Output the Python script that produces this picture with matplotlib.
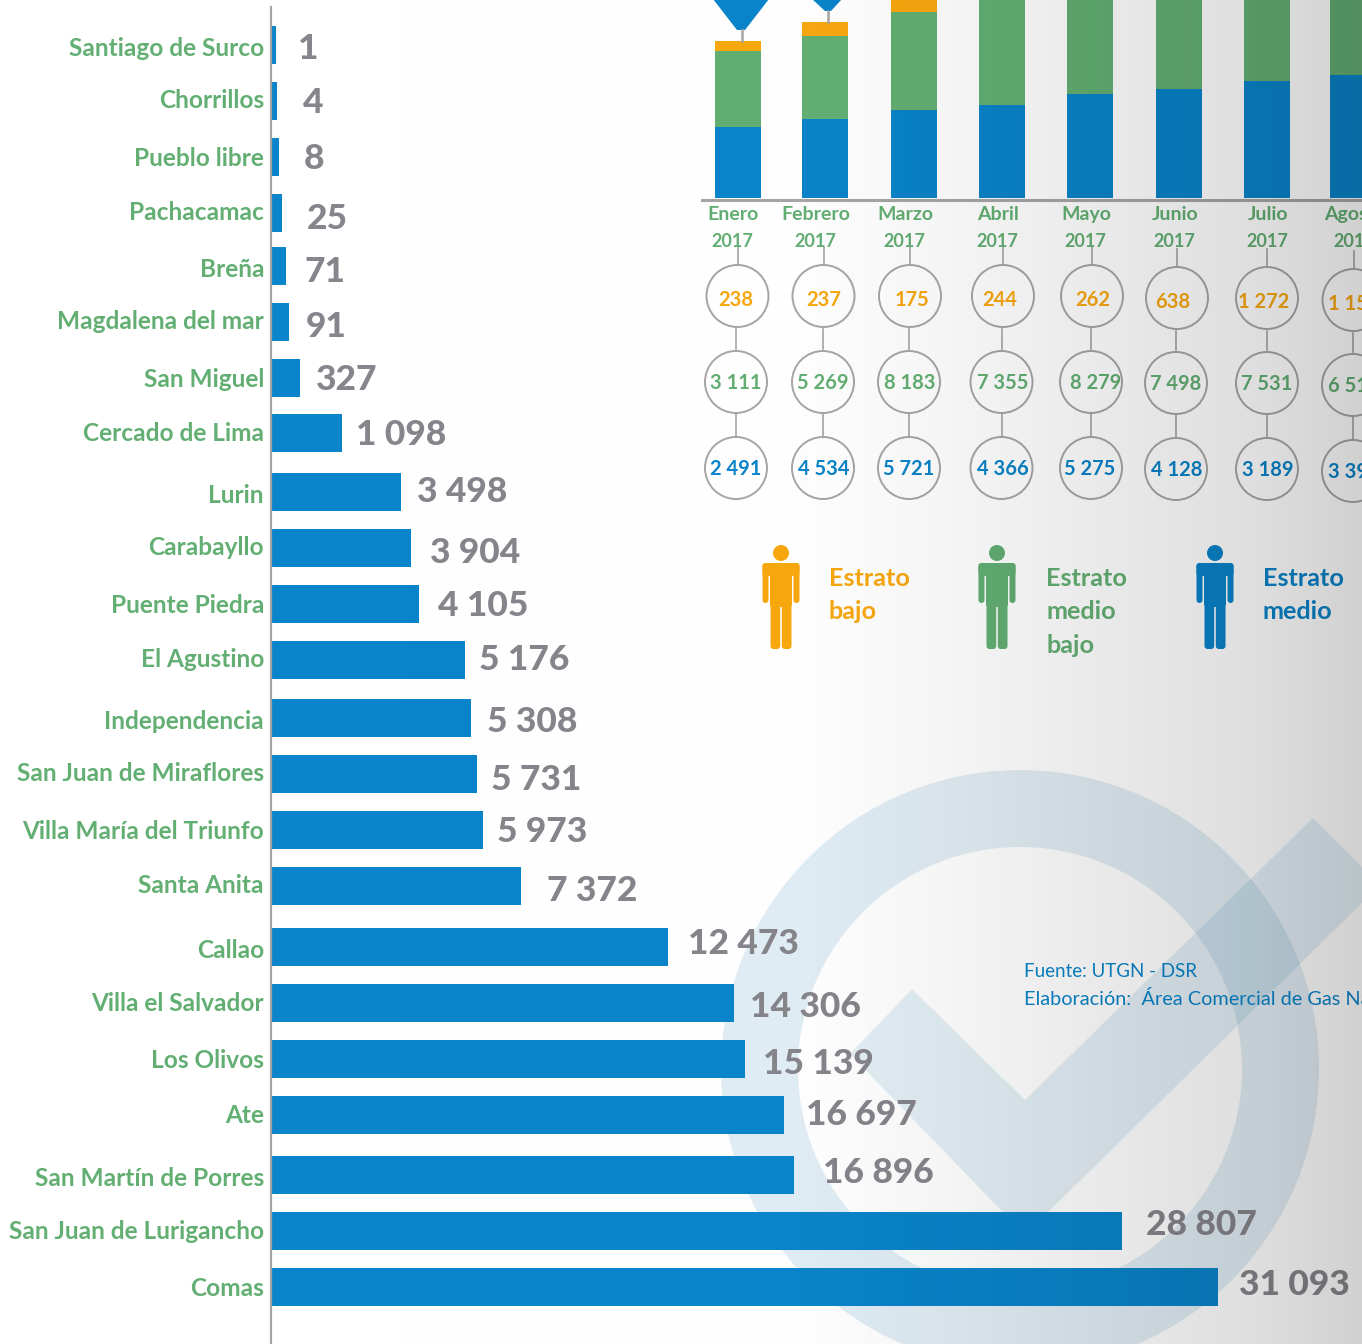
import numpy as np
import matplotlib
matplotlib.use("Agg")
import matplotlib.pyplot as plt
from matplotlib.patches import Circle, Polygon, Wedge, FancyBboxPatch

plt.rcParams['font.family'] = ['Lato', 'DejaVu Sans']

# left chart
districts = ["Santiago de Surco", "Chorrillos", "Pueblo libre", "Pachacamac", "Breña",
             "Magdalena del mar", "San Miguel", "Cercado de Lima", "Lurin", "Carabayllo",
             "Puente Piedra", "El Agustino", "Independencia", "San Juan de Miraflores",
             "Villa María del Triunfo", "Santa Anita", "Callao", "Villa el Salvador",
             "Los Olivos", "Ate", "San Martín de Porres", "San Juan de Lurigancho", "Comas"]
district_values = [1, 4, 8, 25, 71, 91, 327, 1098, 3498, 3904, 4105, 5176, 5308, 5731,
                   5973, 7372, 12473, 14306, 15139, 16697, 16896, 28807, 31093]
# the source bars are not to a linear scale, so the axis gets the drawn lengths
drawn_ends = [276, 276.5, 279, 282, 286, 289, 300, 342, 401, 411, 419, 465, 471, 477,
              483, 521, 668, 734, 745, 784, 794, 1122, 1218]

# top chart (bar heights, the top is cut off)
months = ["Enero", "Febrero", "Marzo", "Abril", "Mayo", "Junio", "Julio", "Agosto"]
years = ["2017"] * 8
height_medio = [71, 79, 88, 93, 104, 109, 117, 123]
height_medio_bajo = [76, 83, 98, 125, 110, 115, 120, 105]
height_bajo = [10, 14, 14, 12, 12, 20, 30, 28]

estrato_bajo = [238, 237, 175, 244, 262, 638, 1272, 1150]
estrato_medio_bajo = [3111, 5269, 8183, 7355, 8279, 7498, 7531, 6510]
estrato_medio = [2491, 4534, 5721, 4366, 5275, 4128, 3189, 3390]

# layout, in pixels of the picture
W, H = 1362, 1344
row_y = [45, 101, 157, 213, 266, 322, 378, 433, 492, 548, 604, 660, 718, 774, 830, 886,
         947, 1003, 1059, 1115, 1175, 1231, 1287]
name_y = [47, 99, 157, 211, 268, 320, 378, 432, 494, 546, 604, 658, 720, 772, 830, 884,
          949, 1002, 1059, 1114, 1177, 1230, 1287]
num_x = [298, 303, 304, 307, 305, 306, 316, 356, 417, 430, 438, 479, 487, 491, 497, 547,
         688, 750, 763, 806, 823, 1146, 1239]
num_y = [47, 101, 157, 217, 270, 325, 378, 433, 490, 551, 604, 658, 720, 778, 830, 889,
         942, 1005, 1062, 1113, 1171, 1223, 1283]
bar_x = [738, 825, 914, 1002, 1090, 1179, 1267, 1353]
month_x = [733, 816, 905, 998, 1086, 1175, 1268, 1355]
c1_x = [737.5, 823.5, 910, 1003, 1092, 1177, 1267, 1353.5]
c2_x = [736, 823, 909, 1001.5, 1091, 1176, 1267, 1353]
c1_y = [296, 296, 296, 296, 296, 298, 298, 300]
c2_y = [382, 382, 382, 382, 382, 383, 383, 385]
c3_y = [468, 468, 468, 468, 468, 469, 469, 471]
t1_x = [736, 824, 912, 999.5, 1092.5, 1172.5, 1263.5, 1354]
t2_x = [735.5, 823, 910, 1002.5, 1095.5, 1175.5, 1267, 1354]
t3_x = [736, 824, 909, 1003, 1090, 1176.5, 1268, 1354]

ORANGE = "#F8A80F"
GREEN = "#63AF73"
BLUE = "#0A84CA"
GREY = "#86858B"
LINE = "#A6A6A6"


def fmt(v):
    return f"{v:,}".replace(",", " ")


def px_axes(x0, y0, x1, y1, z):
    a = fig.add_axes([x0 / W, 1 - y1 / H, (x1 - x0) / W, (y1 - y0) / H], zorder=z)
    a.axis("off")
    return a


def person(a, x, color):
    a.add_patch(Circle((x, 553), 8, fc=color, ec="none"))
    boxes = [(-18.5, 563, 37, 13), (-18.5, 563, 6, 40), (12.5, 563, 6, 40), (-11, 563, 22, 44),
             (-10.5, 600, 9.7, 49), (0.8, 600, 9.7, 49)]
    for bx, by, bw, bh in boxes:
        a.add_patch(FancyBboxPatch((x + bx + 3, by + 3), bw - 6, bh - 6, boxstyle="round,pad=3",
                                   fc=color, ec="none"))


fig = plt.figure(figsize=(W / 100, H / 100), dpi=100, facecolor="white")

# watermark under everything
back = px_axes(0, 0, W, H, 0)
back.set_xlim(0, W)
back.set_ylim(H, 0)
back.add_patch(Wedge((1020, 1069), 299, 0, 360, width=77, fc="#2b83b5", alpha=0.14, ec="none"))
back.add_patch(Polygon([(850, 1054), (912, 989), (1025, 1100), (1313, 818), (1380, 885),
                        (1025, 1235)], fc="#2b83b5", alpha=0.13, ec="none"))

# district bars, the scale goes through the drawn lengths
ax = px_axes(271, 0, 1218, H, 1)
knots_v = np.array([0] + district_values, dtype=float)
knots_px = np.array([0] + drawn_ends, dtype=float) - 271
knots_px[0] = 0
ax.set_xscale("function", functions=(lambda v: np.interp(v, knots_v, knots_px),
                                     lambda p: np.interp(p, knots_px, knots_v)))
ax.barh(row_y, district_values, height=38, color=BLUE)
ax.set_xlim(0, 31093)
ax.set_ylim(H, 0)

# monthly stacked bars
ax2 = px_axes(702, 0, W, 198, 1)
bottom_bajo = np.array(height_medio) + np.array(height_medio_bajo)
ax2.bar(bar_x, height_medio, width=46, color=BLUE)
ax2.bar(bar_x, height_medio_bajo, width=46, bottom=height_medio, color=GREEN)
ax2.bar(bar_x, height_bajo, width=46, bottom=bottom_bajo, color=ORANGE)
ax2.set_xlim(702, W)
ax2.set_ylim(0, 198)

# lines, circles and text
top = px_axes(0, 0, W, H, 2)
top.set_xlim(0, W)
top.set_ylim(H, 0)
top.plot([270.5, 270.5], [7, H], color=LINE, lw=1.6)
top.plot([702, W], [199.5, 199.5], color=LINE, lw=2.2)

top.add_patch(Polygon([(713, -1), (769, -1), (745, 30), (737, 30)], fc=BLUE, ec="none"))
top.add_patch(Polygon([(812, -1), (842, -1), (831, 11), (825, 11)], fc=BLUE, ec="none"))
top.plot([741.5, 741.5], [30, 41], color=LINE, lw=1.8)
top.plot([827.5, 827.5], [11, 22], color=LINE, lw=1.8)

for name, y, v, nx, ny in zip(districts, name_y, district_values, num_x, num_y):
    top.text(264, y + 9, name, ha="right", va="baseline", color=GREEN, fontsize=17.6, fontweight="bold")
    top.text(nx, ny + 12, fmt(v), ha="left", va="baseline", color=GREY, fontsize=25.5, fontweight="black")

for i in range(8):
    top.text(month_x[i], 220, months[i], ha="center", va="baseline", color=GREEN, fontsize=14, fontweight="bold")
    top.text(month_x[i] - 1, 247, years[i], ha="center", va="baseline", color=GREEN, fontsize=13, fontweight="bold")
    for cx, cy in [(c1_x[i], c1_y[i]), (c2_x[i], c2_y[i]), (c2_x[i], c3_y[i])]:
        top.add_patch(Circle((cx, cy), 31, fc="none", ec=LINE, lw=1.4))
    top.plot([c1_x[i]] * 2, [c1_y[i] - 49, c1_y[i] - 31], color=LINE, lw=1.2)
    top.plot([c2_x[i]] * 2, [c1_y[i] + 33, c2_y[i] - 33], color=LINE, lw=1.2)
    top.plot([c2_x[i]] * 2, [c2_y[i] + 31, c3_y[i] - 31], color=LINE, lw=1.2)
    top.text(t1_x[i], c1_y[i] + 10, fmt(estrato_bajo[i]), ha="center", va="baseline", color=ORANGE,
             fontsize=14.5, fontweight="bold")
    top.text(t2_x[i], c2_y[i] + 7, fmt(estrato_medio_bajo[i]), ha="center", va="baseline", color=GREEN,
             fontsize=14.5, fontweight="bold")
    top.text(t3_x[i], c3_y[i] + 7, fmt(estrato_medio[i]), ha="center", va="baseline", color=BLUE,
             fontsize=14.5, fontweight="bold")

person(top, 781, ORANGE)
person(top, 997, GREEN)
person(top, 1215, BLUE)
for x, color, lines in [(829, ORANGE, ["Estrato", "bajo"]),
                        (1046, GREEN, ["Estrato", "medio", "bajo"]),
                        (1263, BLUE, ["Estrato", "medio"])]:
    for line, y in zip(lines, [586, 619, 653]):
        top.text(x, y, line, ha="left", va="baseline", color=color, fontsize=18.2, fontweight="bold")

top.text(1024, 977, "Fuente: UTGN - DSR", ha="left", va="baseline", color=BLUE, fontsize=13.5)
top.text(1024, 1005, "Elaboración:  Área Comercial de Gas Natural", ha="left", va="baseline",
         color=BLUE, fontsize=14.3)

# grey shade laid over the whole page
shade_ax = px_axes(0, 0, W, H, 3)
grey_level = np.interp(np.arange(W), [0, 800, 950, 1100, 1250, 1362], [255, 253, 244, 233, 222, 208])
shade = np.zeros((1, W, 4))
shade[0, :, 3] = 1 - grey_level / 255
shade_ax.imshow(shade, aspect="auto", interpolation="nearest", extent=(0, W, H, 0))

fig.savefig("out.png", dpi=100)
